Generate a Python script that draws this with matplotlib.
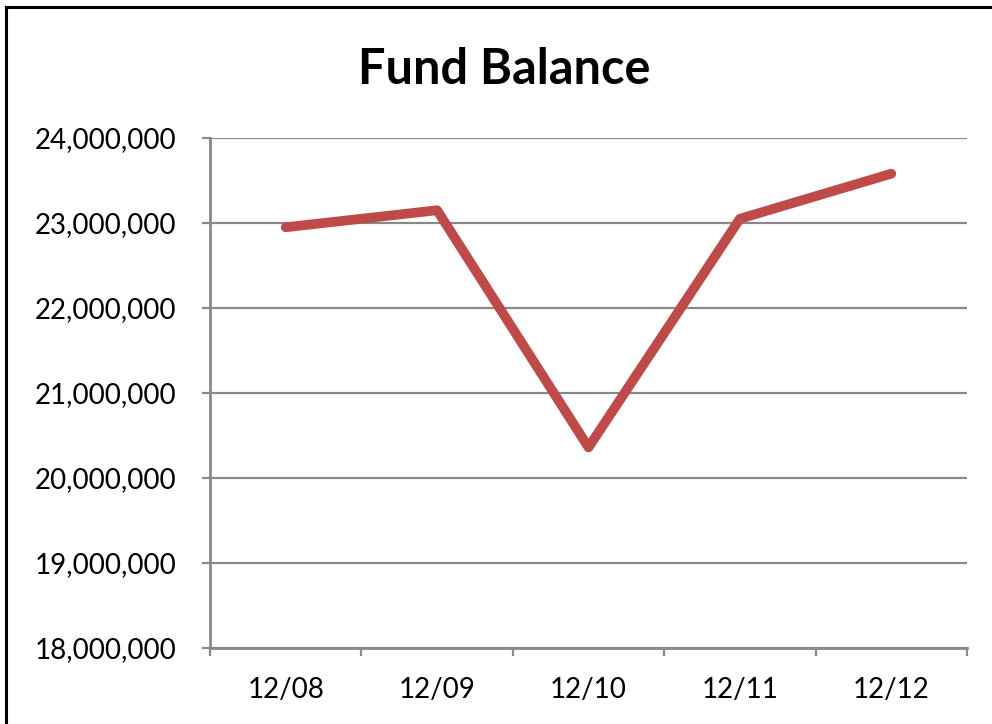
import matplotlib.pyplot as plt
import matplotlib.patches as pt
from matplotlib.ticker import FuncFormatter, FixedLocator
import numpy as np

plt.rcParams["font.family"] = ["Lato", "DejaVu Sans"]

years = ["12/08", "12/09", "12/10", "12/11", "12/12"]
balance = [22950000, 23150000, 20360000, 23050000, 23580000]

GRID = "#898989"
LINE = "#BE4B4A"

fig = plt.figure(figsize=(9.92, 7.24), dpi=100)
ax = fig.add_axes([210/992, 1 - 648/724, (967-210)/992, (648-138)/724])

x = np.arange(len(years))
ax.plot(x, balance, color=LINE, linewidth=7, solid_capstyle="round", solid_joinstyle="round", zorder=3)

ax.set_xlim(-0.5, len(years) - 0.5)
ax.set_ylim(18000000, 24000000)
ax.set_yticks(np.arange(18000000, 24000001, 1000000))
ax.yaxis.set_major_formatter(FuncFormatter(lambda v, p: f"{int(v):,}"))
ax.set_xticks(x)
ax.set_xticklabels(years)
ax.xaxis.set_minor_locator(FixedLocator(np.arange(-0.5, len(years), 1.0)))

ax.grid(axis="y", color=GRID, linewidth=1.6, zorder=1)
for s in ["top", "right"]:
    ax.spines[s].set_visible(False)
for s in ["left", "bottom"]:
    ax.spines[s].set_color(GRID)
    ax.spines[s].set_linewidth(2)
ax.tick_params(axis="y", which="major", length=6, width=1.6, color=GRID, labelsize=20, pad=18)
ax.tick_params(axis="x", which="major", length=0, labelsize=20, pad=21)
ax.tick_params(axis="x", which="minor", length=6, width=1.6, color=GRID)

fig.text(504/992, 1 - 69/724, "Fund Balance", ha="center", va="center", fontsize=35, fontweight="bold")

fig.patches.append(pt.Rectangle((6/992, -0.1), 1.2, 1 - 7/724 + 0.1, transform=fig.transFigure,
                                fill=False, edgecolor="black", linewidth=2.2))

fig.savefig("out.png", dpi=100)
